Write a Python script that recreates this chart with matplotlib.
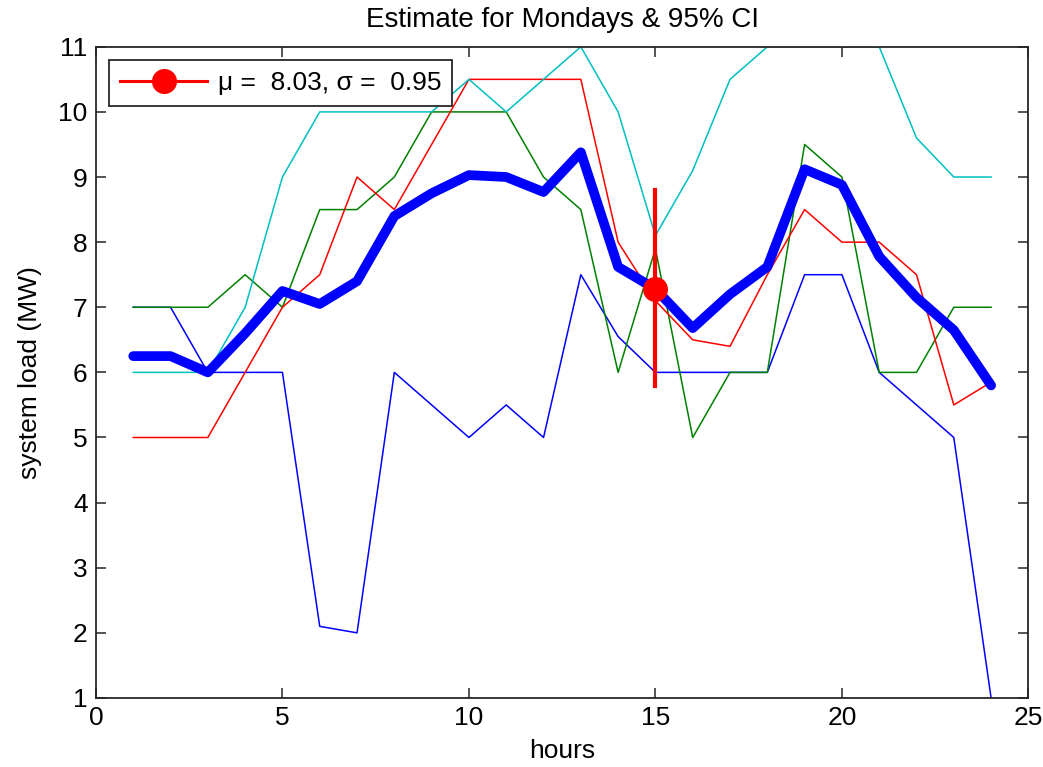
import numpy as np
import matplotlib
matplotlib.use('Agg')
import matplotlib.pyplot as plt
from matplotlib.lines import Line2D

plt.rcParams['font.family'] = ['Liberation Sans', 'DejaVu Sans']

# часы суток
hours = np.arange(1, 25)

# нагрузка по четырём понедельникам (МВт)
load_b = [7, 7, 6, 6, 6, 2.1, 2, 6, 5.5, 5, 5.5, 5, 7.5, 6.55, 6, 6, 6, 6, 7.5, 7.5, 6, 5.5, 5, 1]
load_g = [7, 7, 7, 7.5, 7, 8.5, 8.5, 9, 10, 10, 10, 9, 8.5, 6, 7.9, 5, 6, 6, 9.5, 9, 6, 6, 7, 7]
load_r = [5, 5, 5, 6, 7, 7.5, 9, 8.5, 9.5, 10.5, 10.5, 10.5, 10.5, 8, 7.1, 6.5, 6.4, 7.5, 8.5, 8, 8, 7.5, 5.5, 5.85]
load_c = [6, 6, 6, 7, 9, 10, 10, 10, 10, 10.5, 10, 10.5, 11, 10, 8.1, 9.1, 10.5, 11, 11, 11, 11, 9.6, 9, 9]

# оценка (среднее)
estimate = [6.25, 6.25, 6.0, 6.6, 7.25, 7.05, 7.4, 8.4, 8.75, 9.03, 9.0, 8.77, 9.38, 7.62, 7.28,
            6.68, 7.2, 7.62, 9.12, 8.88, 7.78, 7.15, 6.65, 5.8]

# доверительный интервал в час 15
ci_hour = 15
ci_mean = 7.28
ci_low = 5.79
ci_high = 8.8
legend_text = '\u03bc =  8.03, \u03c3 =  0.95'

FS = 19

fig = plt.figure(figsize=(10.43, 7.67), dpi=100)
ax = fig.add_axes([0.092, 0.09, 0.894, 0.849])

ax.plot(hours, load_b, color='#0000ff', lw=1.1)
ax.plot(hours, load_g, color='#008000', lw=1.1)
ax.plot(hours, load_r, color='#ff0000', lw=1.1)
ax.plot(hours, load_c, color='#00bfbf', lw=1.1)
ax.plot(hours, estimate, color='#0000ff', lw=7, solid_joinstyle='round', solid_capstyle='round')

ax.plot([ci_hour, ci_hour], [ci_low, ci_high], color='#ff0000', lw=3)
ax.plot([ci_hour], [ci_mean], 'o', color='#ff0000', ms=17)

ax.set_xlim(0, 25)
ax.set_ylim(1, 11)
ax.set_xticks(range(0, 26, 5))
ax.set_yticks(range(1, 12))
ax.tick_params(direction='in', top=True, right=True, length=7, width=1.1,
               labelsize=FS, pad=6, colors='#262626', labelcolor='black')
for s in ax.spines.values():
    s.set_linewidth(1.3)
    s.set_color('#262626')

ax.set_title('Estimate for Mondays & 95% CI', fontsize=FS + 1, pad=14)
ax.set_xlabel('hours', fontsize=FS, labelpad=6)
ax.set_ylabel('system load (MW)', fontsize=FS, labelpad=12)

handle = Line2D([], [], color='#ff0000', lw=2.2, marker='o', ms=17)
leg = ax.legend([handle], [legend_text], loc='upper left', fontsize=FS,
                fancybox=False, framealpha=1, edgecolor='#262626',
                handlelength=3.3, handletextpad=0.4, borderpad=0.42, borderaxespad=0.5)
leg.get_frame().set_linewidth(1.3)

fig.savefig('out.png', dpi=100)
